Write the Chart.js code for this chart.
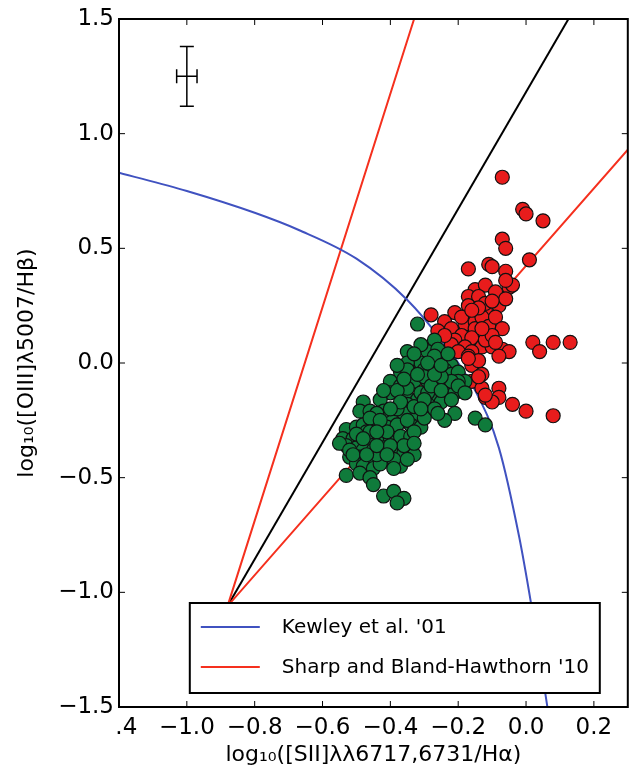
<!DOCTYPE html>
<html>
<head>
<meta charset="utf-8">
<script src="https://cdn.jsdelivr.net/npm/chart.js@4.4.0/dist/chart.umd.min.js"></script>
<style>
  html, body { margin: 0; padding: 0; background: #fff; }
  canvas { display: block; }
</style>
</head>
<body>
<canvas id="diagrama" width="636" height="773"></canvas>
<script>
// eixos
const xTicks = [-1.2, -1.0, -0.8, -0.6, -0.4, -0.2, 0.0, 0.2];
const xTickLabels = ['\u2007.4', '−1.0', '−0.8', '−0.6', '−0.4', '−0.2', '0.0', '0.2'];
const yTicks = [-1.5, -1.0, -0.5, 0.0, 0.5, 1.0, 1.5];
const yTickLabels = ['−1.5', '−1.0', '−0.5', '0.0', '0.5', '1.0', '1.5'];

// curva de Kewley et al. 2001
const kewleyX = [-1.2, -1.0, -0.8, -0.67, -0.5, -0.35, -0.25, -0.15, -0.08, -0.02, 0.015, 0.04, 0.065];
const kewleyY = [0.83, 0.75, 0.655, 0.58, 0.455, 0.275, 0.10, -0.12, -0.37, -0.76, -1.05, -1.28, -1.52];

// retas de Sharp & Bland-Hawthorn 2010 (as duas partem do mesmo ponto)
const sharpX = [0.30, -0.88, -0.33];
const sharpY = [0.93, -1.06, 1.50];

// reta preta
const retaX = [-0.88, 0.125];
const retaY = [-1.06, 1.50];

// barra de erro tipica
const erroX = -1.0, erroY = 1.25, erroDx = 0.03, erroDy = 0.13;

// galaxias (x, y)
const pontosVerdes = [
  [-0.32, 0.17], [-0.27, 0.10], [-0.35, 0.05], [-0.33, 0.01], [-0.29, 0.05], [-0.26, 0.06],
  [-0.24, 0.02], [-0.22, -0.01], [-0.28, -0.01], [-0.31, 0.00], [-0.35, 0.00], [-0.37, -0.04],
  [-0.34, -0.05], [-0.30, -0.03], [-0.24, -0.03], [-0.22, -0.05], [-0.20, -0.04], [-0.18, -0.08],
  [-0.40, -0.08], [-0.37, -0.10], [-0.33, -0.08], [-0.29, -0.08], [-0.26, -0.09], [-0.23, -0.10],
  [-0.20, -0.08], [-0.40, -0.13], [-0.35, -0.15], [-0.32, -0.16], [-0.27, -0.14], [-0.24, -0.13],
  [-0.21, -0.13], [-0.48, -0.17], [-0.43, -0.16], [-0.22, -0.08], [-0.25, -0.06], [-0.35, -0.11],
  [-0.25, -0.17], [-0.29, -0.18], [-0.21, -0.22], [-0.24, -0.25], [-0.15, -0.24], [-0.12, -0.27],
  [-0.32, -0.22], [-0.29, -0.21], [-0.35, -0.18], [-0.49, -0.21], [-0.46, -0.21], [-0.31, -0.13],
  [-0.29, -0.13], [-0.36, -0.22], [-0.40, -0.24], [-0.42, -0.21], [-0.53, -0.29], [-0.50, -0.28],
  [-0.48, -0.27], [-0.45, -0.27], [-0.41, -0.28], [-0.38, -0.27], [-0.34, -0.27], [-0.31, -0.28],
  [-0.54, -0.33], [-0.51, -0.33], [-0.49, -0.32], [-0.47, -0.34], [-0.43, -0.33], [-0.40, -0.33],
  [-0.37, -0.32], [-0.34, -0.32], [-0.53, -0.36], [-0.50, -0.37], [-0.48, -0.38], [-0.45, -0.38],
  [-0.42, -0.37], [-0.39, -0.38], [-0.36, -0.39], [-0.33, -0.40], [-0.52, -0.41], [-0.49, -0.41],
  [-0.46, -0.42], [-0.42, -0.42], [-0.50, -0.44], [-0.48, -0.45], [-0.45, -0.46], [-0.37, -0.45],
  [-0.53, -0.49], [-0.49, -0.48], [-0.46, -0.50], [-0.45, -0.53], [-0.42, -0.58], [-0.39, -0.56],
  [-0.36, -0.59], [-0.38, -0.61], [-0.55, -0.35], [-0.44, -0.22], [-0.47, -0.30], [-0.41, -0.30],
  [-0.38, -0.20], [-0.36, -0.36], [-0.39, -0.42], [-0.43, -0.44], [-0.52, -0.38], [-0.50, -0.31],
  [-0.46, -0.24], [-0.35, -0.25], [-0.33, -0.30], [-0.30, -0.24], [-0.27, -0.20], [-0.33, -0.19],
  [-0.38, -0.12], [-0.42, -0.12], [-0.30, -0.06], [-0.35, -0.03], [-0.27, 0.03], [-0.31, 0.08],
  [-0.28, -0.10], [-0.25, -0.12], [-0.20, -0.10], [-0.18, -0.13], [-0.22, -0.16], [-0.44, -0.40],
  [-0.40, -0.36], [-0.46, -0.30], [-0.36, -0.07], [-0.32, -0.05], [-0.27, -0.05], [-0.30, -0.16],
  [-0.26, -0.22], [-0.31, -0.20], [-0.37, -0.17], [-0.43, -0.25], [-0.40, -0.20], [-0.44, -0.30],
  [-0.48, -0.33], [-0.51, -0.40], [-0.47, -0.40], [-0.44, -0.36], [-0.41, -0.40], [-0.39, -0.46],
  [-0.35, -0.42], [-0.33, -0.35], [-0.29, 0.00], [-0.25, -0.01], [-0.23, 0.04], [-0.33, 0.04],
  [-0.38, -0.01]
];

const pontosVermelhos = [
  [-0.07, 0.81], [-0.01, 0.67], [0.00, 0.65], [0.05, 0.62], [-0.07, 0.54], [-0.06, 0.50],
  [0.01, 0.45], [-0.17, 0.41], [-0.11, 0.43], [-0.10, 0.42], [-0.06, 0.40], [-0.15, 0.32],
  [-0.12, 0.34], [-0.09, 0.31], [-0.05, 0.33], [-0.04, 0.34], [-0.17, 0.29], [-0.14, 0.29],
  [-0.17, 0.25], [-0.12, 0.23], [-0.08, 0.25], [-0.06, 0.28], [-0.28, 0.21], [-0.21, 0.22],
  [-0.24, 0.18], [-0.18, 0.17], [-0.15, 0.18], [-0.15, 0.15], [-0.26, 0.14], [-0.22, 0.15],
  [-0.19, 0.12], [-0.16, 0.11], [-0.21, 0.10], [-0.22, 0.08], [-0.18, 0.07], [-0.13, 0.07],
  [-0.10, 0.07], [-0.07, 0.06], [-0.05, 0.05], [-0.08, 0.03], [-0.16, 0.05], [-0.20, 0.05],
  [-0.17, 0.03], [-0.16, -0.01], [-0.13, -0.05], [-0.16, -0.08], [-0.13, -0.11], [-0.12, -0.15],
  [-0.08, -0.11], [-0.08, -0.15], [-0.10, -0.17], [-0.04, -0.18], [0.00, -0.21], [0.02, 0.09],
  [0.04, 0.05], [0.08, 0.09], [0.13, 0.09], [0.08, -0.23], [-0.12, 0.26], [-0.19, 0.20],
  [-0.13, 0.20], [-0.11, 0.16], [-0.14, 0.01], [-0.12, 0.10], [-0.24, 0.12], [-0.14, 0.24],
  [-0.10, 0.27], [-0.06, 0.36], [-0.17, 0.02], [-0.14, -0.06], [-0.12, -0.14], [-0.09, 0.20],
  [-0.07, 0.15], [-0.10, 0.12], [-0.16, 0.23], [-0.13, 0.15], [-0.09, 0.09]
];

const rotulosLegenda = ["Kewley et al. '01", "Sharp and Bland-Hawthorn '10"];

function paraXY(xs, ys) {
    const lista = [];
    for (let i = 0; i < xs.length; i++) {
        lista.push({ x: xs[i], y: ys[i] });
    }
    return lista;
}

Chart.defaults.font.family = "'DejaVu Sans', sans-serif";
Chart.defaults.color = '#000';

// moldura, ticks para dentro, barra de erro e legenda dentro do grafico
const molduraPlugin = {
    id: 'moldura',
    afterDraw(chart) {
        const ctx = chart.ctx;
        const area = chart.chartArea;
        const sx = chart.scales.x;
        const sy = chart.scales.y;

        ctx.save();
        ctx.strokeStyle = '#000';

        // barra de erro
        const cx = sx.getPixelForValue(erroX);
        const cy = sy.getPixelForValue(erroY);
        const x0 = sx.getPixelForValue(erroX - erroDx), x1 = sx.getPixelForValue(erroX + erroDx);
        const y0 = sy.getPixelForValue(erroY + erroDy), y1 = sy.getPixelForValue(erroY - erroDy);
        ctx.lineWidth = 1.5;
        ctx.beginPath();
        ctx.moveTo(cx, y0); ctx.lineTo(cx, y1);
        ctx.moveTo(x0, cy); ctx.lineTo(x1, cy);
        ctx.moveTo(cx - 7, y0); ctx.lineTo(cx + 7, y0);
        ctx.moveTo(cx - 7, y1); ctx.lineTo(cx + 7, y1);
        ctx.moveTo(x0, cy - 7); ctx.lineTo(x0, cy + 7);
        ctx.moveTo(x1, cy - 7); ctx.lineTo(x1, cy + 7);
        ctx.stroke();

        // ticks
        ctx.lineWidth = 1;
        ctx.beginPath();
        xTicks.forEach(v => {
            const p = sx.getPixelForValue(v);
            ctx.moveTo(p, area.bottom); ctx.lineTo(p, area.bottom - 6);
            ctx.moveTo(p, area.top); ctx.lineTo(p, area.top + 6);
        });
        yTicks.forEach(v => {
            const p = sy.getPixelForValue(v);
            ctx.moveTo(area.left, p); ctx.lineTo(area.left + 6, p);
            ctx.moveTo(area.right, p); ctx.lineTo(area.right - 6, p);
        });
        ctx.stroke();

        // moldura
        ctx.lineWidth = 2;
        ctx.strokeRect(area.left, area.top, area.right - area.left, area.bottom - area.top);

        // legenda
        const lx = area.right - 438, ly = area.bottom - 104;
        const lw = 410, lh = 90;
        ctx.fillStyle = '#fff';
        ctx.fillRect(lx, ly, lw, lh);
        ctx.lineWidth = 2;
        ctx.strokeRect(lx, ly, lw, lh);
        ctx.font = "20px 'DejaVu Sans'";
        ctx.textBaseline = 'middle';
        ctx.textAlign = 'left';
        rotulosLegenda.forEach((rotulo, i) => {
            const ds = chart.data.datasets.find(d => d.label === rotulo);
            const yy = ly + 24 + i * 40;
            ctx.strokeStyle = ds.borderColor;
            ctx.lineWidth = ds.borderWidth;
            ctx.beginPath();
            ctx.moveTo(lx + 11, yy); ctx.lineTo(lx + 70, yy);
            ctx.stroke();
            ctx.fillStyle = '#000';
            ctx.fillText(rotulo, lx + 92, yy + 1);
        });
        ctx.restore();
    }
};

new Chart(document.getElementById('diagrama'), {
    type: 'scatter',
    data: {
        datasets: [
            {
                label: 'Verdes',
                data: pontosVerdes.map(p => ({ x: p[0], y: p[1] })),
                backgroundColor: '#0f7b3b',
                borderColor: '#111',
                borderWidth: 1.2,
                pointRadius: 7,
                order: 0
            },
            {
                label: 'Vermelhos',
                data: pontosVermelhos.map(p => ({ x: p[0], y: p[1] })),
                backgroundColor: '#e81c1c',
                borderColor: '#111',
                borderWidth: 1.2,
                pointRadius: 7,
                order: 1
            },
            {
                label: "Kewley et al. '01",
                data: paraXY(kewleyX, kewleyY),
                showLine: true,
                borderColor: '#4052c0',
                borderWidth: 2,
                pointRadius: 0,
                cubicInterpolationMode: 'monotone',
                order: 2
            },
            {
                label: "Sharp and Bland-Hawthorn '10",
                data: paraXY(sharpX, sharpY),
                showLine: true,
                borderColor: '#f5301e',
                borderWidth: 2,
                pointRadius: 0,
                order: 2
            },
            {
                label: 'Reta',
                data: paraXY(retaX, retaY),
                showLine: true,
                borderColor: '#000',
                borderWidth: 2,
                pointRadius: 0,
                order: 2
            }
        ]
    },
    options: {
        responsive: false,
        animation: false,
        layout: { padding: { top: 19, right: 3, left: 0, bottom: 0 } },
        plugins: {
            legend: { display: false },
            tooltip: { enabled: false }
        },
        scales: {
            x: {
                type: 'linear',
                min: -1.2,
                max: 0.3,
                afterBuildTicks: s => { s.ticks = xTicks.map(v => ({ value: v })); },
                afterFit: s => { s.height = 66; },
                ticks: {
                    callback: (v, i) => xTickLabels[i],
                    font: { size: 23 },
                    padding: 7,
                    maxRotation: 0,
                    autoSkip: false
                },
                grid: { display: false, drawTicks: false },
                border: { display: false },
                title: {
                    display: true,
                    text: 'log₁₀([SII]λλ6717,6731/Hα)',
                    font: { size: 22 },
                    padding: { top: 0, bottom: 5 }
                }
            },
            y: {
                type: 'linear',
                min: -1.5,
                max: 1.5,
                afterBuildTicks: s => { s.ticks = yTicks.map(v => ({ value: v })); },
                afterFit: s => { s.width = 119; },
                ticks: {
                    callback: (v, i) => yTickLabels[i],
                    font: { size: 23 },
                    padding: 5,
                    autoSkip: false
                },
                grid: { display: false, drawTicks: false },
                border: { display: false },
                title: {
                    display: true,
                    text: 'log₁₀([OIII]λ5007/Hβ)',
                    font: { size: 22 },
                    padding: { top: 14, bottom: 0 }
                }
            }
        }
    },
    plugins: [molduraPlugin]
});
</script>
</body>
</html>
